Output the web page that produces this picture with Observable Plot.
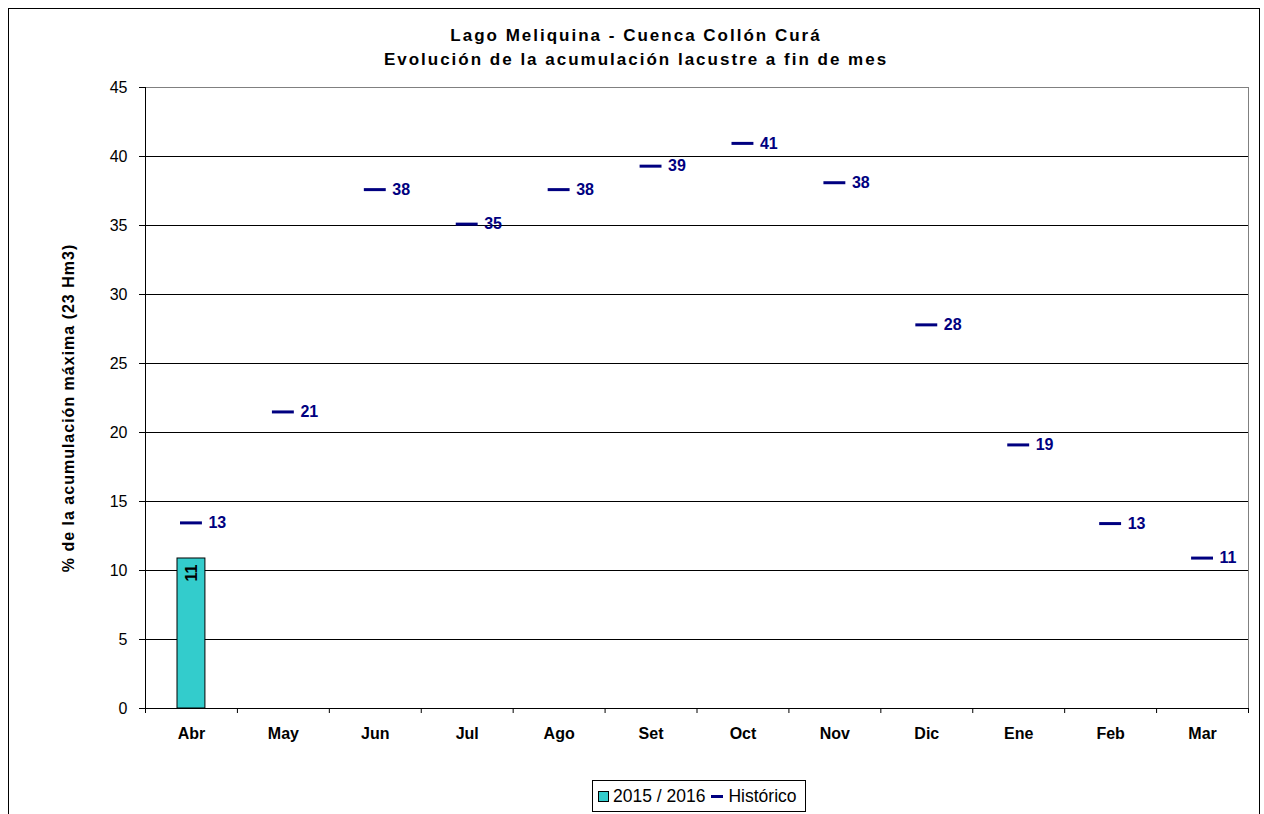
<!DOCTYPE html>
<html><head><meta charset="utf-8">
<script src="https://cdn.jsdelivr.net/npm/d3@7"></script>
<script src="https://cdn.jsdelivr.net/npm/@observablehq/plot@0.6"></script>
<style>
body{margin:0;background:#fff;font-family:"Liberation Sans",Arial,sans-serif;}
#wrap{position:relative;width:1264px;height:814px;overflow:hidden;}
#border{position:absolute;left:8px;top:8px;width:1252px;height:830px;border:1px solid #000;box-sizing:border-box;}
.title{position:absolute;left:0;width:1272px;text-align:center;font-weight:bold;font-size:17px;letter-spacing:2px;color:#000;line-height:20px;}
#chart{position:absolute;left:0;top:0;}
#legend{position:absolute;left:592px;top:780px;width:214px;height:32px;box-sizing:border-box;border:1px solid #000;display:flex;align-items:center;font-size:17.5px;color:#000;padding-left:5px;white-space:nowrap;}
.sw{display:inline-block;width:9px;height:9px;background:#33CCCC;border:1px solid #000;margin-right:4px;}
.dash{display:inline-block;width:12px;height:3px;background:#000080;margin:0 5px 0 6px;}
</style></head>
<body>
<div id="wrap">
  <div id="border"></div>
  <div class="title" style="top:26px">Lago Meliquina - Cuenca Collón Curá</div>
  <div class="title" style="top:50px">Evolución de la acumulación lacustre a fin de mes</div>
  <div id="chart"></div>
  <div id="legend"><span class="sw"></span><span>2015 / 2016</span><span class="dash"></span><span>Histórico</span></div>
</div>
<script>
const months = ["Abr","May","Jun","Jul","Ago","Set","Oct","Nov","Dic","Ene","Feb","Mar"];
const actualMonths = ["Abr"];
const actualValues = [10.87];
const historicValues = [13.45, 21.49, 37.6, 35.1, 37.6, 39.3, 40.95, 38.1, 27.8, 19.1, 13.4, 10.9];
const yTicks = [0,5,10,15,20,25,30,35,40,45];
const yLabel = "% de la acumulación máxima (23 Hm3)";

const actual = actualMonths.map((m,i)=>({month:m, value:actualValues[i]}));
const hist = months.map((m,i)=>({month:m, value:historicValues[i]}));
const fmt = d3.format(".0f");

const W = 1264, H = 770, ML = 145, MR = 16;
const bw = (W - ML - MR) / months.length;

const chart = Plot.plot({
  width: W, height: H,
  marginLeft: ML, marginRight: MR, marginTop: 87, marginBottom: 62,
  style: {fontFamily: '"Liberation Sans", Arial, sans-serif', fontSize: "16px", background: "transparent", color: "#000", overflow: "visible"},
  x: {domain: months, padding: 0, round: false, label: null},
  y: {domain: [0, 45], label: null},
  marks: [
    Plot.gridY(yTicks, {stroke: "#000", strokeOpacity: 1}),
    Plot.frame({stroke: "#808080"}),
    Plot.frame({anchor: "left", stroke: "#000"}),
    Plot.frame({anchor: "bottom", stroke: "#000"}),
    Plot.barY(actual, {x: "month", y: "value", fill: "#33CCCC", stroke: "#000", strokeWidth: 1, insetLeft: 32, insetRight: 32}),
    Plot.text(actual, {x: "month", y: "value", text: d => fmt(d.value), rotate: -90, textAnchor: "end", dy: 6, fontWeight: "bold", fontSize: 16, fill: "#000"}),
    Plot.tickY(hist, {x: "month", y: "value", stroke: "#000080", strokeWidth: 3, insetLeft: 35, insetRight: 35}),
    Plot.text(hist, {x: "month", y: "value", text: d => fmt(d.value), textAnchor: "start", dx: 17, fill: "#000080", fontWeight: "bold", fontSize: 16}),
    Plot.axisY(yTicks, {tickSize: 6, tickPadding: 12, fontSize: 16, label: null, stroke: "#000"}),
    Plot.axisX({tickSize: 0, tickPadding: 19, fontWeight: "bold", fontSize: 16, label: null}),
    Plot.axisX(months, {tickSize: 5, dx: -bw/2, tickFormat: () => "", label: null, stroke: "#000"}),
    Plot.axisX([months[months.length-1]], {tickSize: 5, dx: bw/2, tickFormat: () => "", label: null, stroke: "#000"}),
    Plot.text([yLabel], {frameAnchor: "left", textAnchor: "middle", rotate: -90, dx: -77, dy: 10, fontWeight: "bold", fontSize: 16, fill: "#000"})
  ]
});
document.getElementById("chart").appendChild(chart);
// letter spacing on the y-axis title
d3.select(chart).selectAll("text").filter(function(){ return this.textContent === yLabel; }).style("letter-spacing", "1px");
</script>
</body></html>
